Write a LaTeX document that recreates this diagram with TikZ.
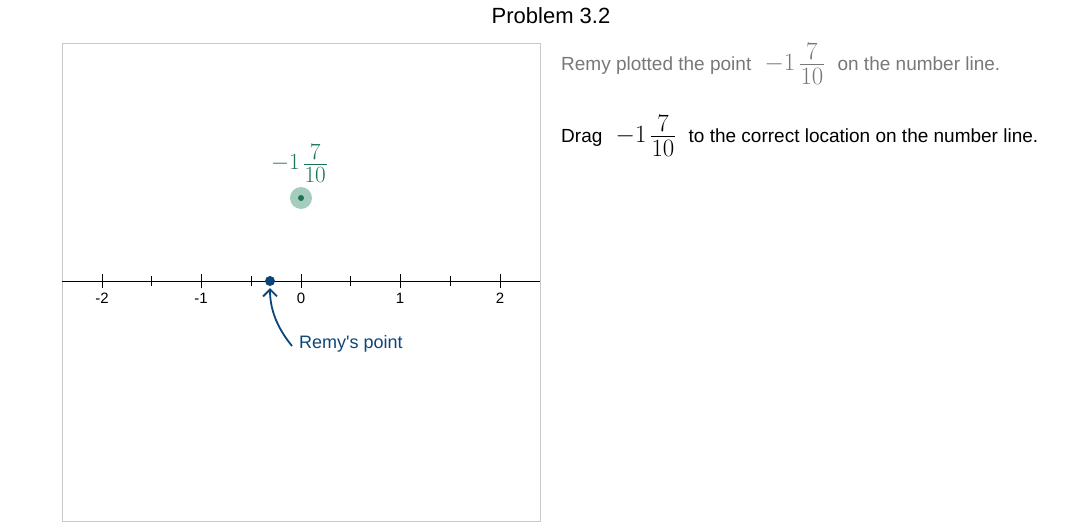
\documentclass[tikz,border=0pt]{standalone}
\usepackage{amsmath}
\usepackage{fontspec}
\setmainfont{Liberation Sans}
\usetikzlibrary{arrows.meta}
\definecolor{remyblue}{RGB}{12,70,120}
\definecolor{dotgreen}{RGB}{25,115,85}
\definecolor{halogreen}{RGB}{165,205,190}
\definecolor{framegray}{RGB}{200,200,200}
\definecolor{textgray}{RGB}{120,120,120}
% mixed number with a tight fraction bar
\newcommand{\mixnum}{{\fontsize{23}{25}\selectfont$-1\,\vcenter{\offinterlineskip
  \halign{\hfil\kern1pt$##$\kern1pt\hfil\cr 7\cr
  \noalign{\kern4pt\hrule height0.7pt\kern4pt}10\cr}}$}}
\begin{document}
\begin{tikzpicture}[x=1pt,y=-1pt,
  ticklab/.style={font=\fontsize{15}{17}\selectfont,anchor=north,inner sep=0pt},
  txt/.style={font=\fontsize{19}{23}\selectfont,anchor=west,inner sep=0pt}]
\useasboundingbox (0,0) rectangle (1087,527);
\node[font=\fontsize{22}{26}\selectfont] (title) at (551,16) {Problem 3.2};
\draw[framegray] (62,43) rectangle (540,521);
\draw(62,281)--(540,281);
\foreach \v/\x in {-2/102,-1/201,0/301,1/400,2/500}
  \draw(\x,274)--(\x,288)node[ticklab,yshift=-5pt]{\v};
\foreach \x in {151,251,350,450}
  \draw(\x,276)--(\x,286);
\fill[halogreen] (301,198) circle (11);
\fill[dotgreen] (301,198) circle (3);
\node[text=dotgreen,inner sep=0pt,scale=0.93] (glab) at (299,164) {\mixnum};
\node[circle,fill=remyblue,inner sep=0pt,minimum size=10pt] (rp) at (270,281) {};
\node[txt,text=remyblue,font=\fontsize{18}{22}\selectfont] (rl) at (299,344) {Remy\textquotesingle s point};
\draw[remyblue,line width=1.8pt,-{Straight Barb[length=7pt,width=14pt]}] ([xshift=-7pt,yshift=-2pt]rl.west)..controls (279,330) and (270,312)..([yshift=-2pt]rp.south);
\node[txt,text=textgray] (t1) at (561,64) {Remy plotted the point \hspace{8pt}\mixnum\hspace{8pt} on the number line.};
\node[txt] (t2) at (561,136) {Drag \hspace{8pt}\mixnum\hspace{8pt} to the correct location on the number line.};
\end{tikzpicture}
\end{document}
